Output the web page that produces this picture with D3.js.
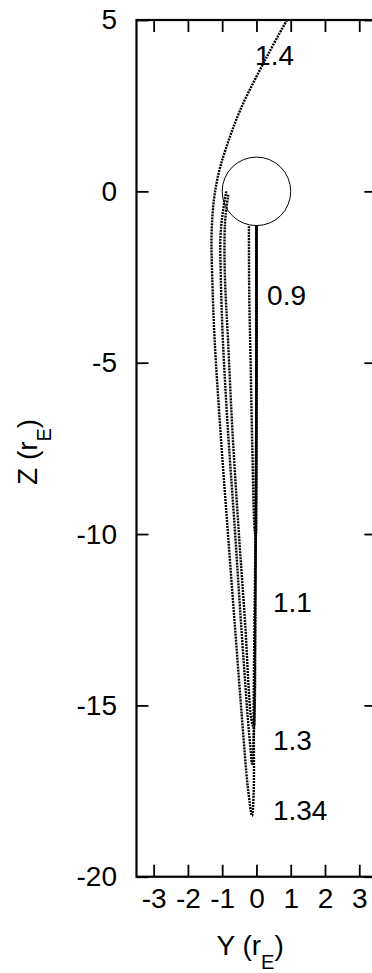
<!DOCTYPE html>
<html>
<head>
<meta charset="utf-8">
<script src="https://cdn.jsdelivr.net/npm/d3@7"></script>
<style>
html,body{margin:0;padding:0;background:#fff;}
svg{display:block;}
text{font-family:"Liberation Sans",Arial,Helvetica,sans-serif;fill:#000;}
</style>
</head>
<body>
<svg id="chart" width="372" height="973"></svg>
<script>
// ---- data (Y, Z in Earth radii) ----
const yTicks = [-3, -2, -1, 0, 1, 2, 3];
const zTicks = [5, 0, -5, -10, -15, -20];
const lineLabels = ["1.4", "0.9", "1.1", "1.3", "1.34"];

const line14 = [[0.89,5],[0.31,3.94],[-0.47,2.38],[-0.9,1.22],[-1.1,0.54],[-1.24,-0.24],[-1.31,-1.3],[-1.29,-2.5],[-1.22,-4.33],[-1.05,-7],[-0.84,-9.87],[-0.62,-12.8],[-0.42,-15.4],[-0.25,-17.4],[-0.13,-18.22],[-0.08,-17.5],[-0.08,-15],[-0.03,-10],[0,-5],[0,-1]];
const line134 = [[-0.88,0],[-0.98,-0.6],[-1.05,-1.3],[-1.04,-2.5],[-0.98,-4.33],[-0.83,-7],[-0.63,-9.87],[-0.45,-12.6],[-0.25,-15.4],[-0.16,-16.4],[-0.13,-16.71],[-0.08,-16],[-0.05,-14],[-0.02,-10],[0,-5],[0,-1]];
const line13 = [[-0.82,-0.1],[-0.9,-0.7],[-0.93,-1.3],[-0.92,-2.5],[-0.83,-4.33],[-0.7,-7],[-0.52,-9.87],[-0.33,-12.6],[-0.15,-15.4],[-0.08,-15.64],[-0.05,-15],[-0.03,-12],[-0.01,-8],[0,-4],[0,-1]];
const line09 = [[-0.22,-1.02],[-0.21,-3],[-0.17,-5],[-0.12,-7.5],[-0.05,-9.9],[-0.02,-10.05],[0,-9],[0,-5],[0,-1]];
const earth = {y:0, z:0, r:1};

// ---- layout ----
const svg = d3.select("#chart");
const padLeft = 136.5, padTop = 20, unit = 34.27;
const x = d3.scaleLinear().domain([-3.5, 3.5]).range([padLeft, padLeft + 7*unit]);
const y = d3.scaleLinear().domain([5, -20]).range([padTop, padTop + 25*unit]);
const [x0, x1] = x.range(), [y0, y1] = y.range();
const fs = 28;
const fmt = d => String(d);

svg.append("defs").append("clipPath").attr("id","clip")
  .append("rect").attr("x",x0).attr("y",y0).attr("width",x1-x0).attr("height",y1-y0);

const plot = svg.append("g").attr("clip-path","url(#clip)");

// earth
plot.append("circle")
  .attr("cx", x(earth.y)).attr("cy", y(earth.z))
  .attr("r", x(earth.r) - x(0))
  .attr("fill","none").attr("stroke","#000").attr("stroke-width",1);

const lineGen = d3.line().x(d => x(d[0])).y(d => y(d[1])).curve(d3.curveCatmullRom.alpha(0.5));
[line14, line134, line13, line09].forEach(pts => {
  plot.append("path").attr("d", lineGen(pts))
    .attr("fill","none").attr("stroke","#000")
    .attr("stroke-width",2.4).attr("stroke-dasharray","2 1");
});

// axes
function styleAxis(g){
  g.select(".domain").remove();
  g.selectAll(".tick line").attr("stroke","#000").attr("stroke-width",1.8);
  g.selectAll(".tick text").attr("font-family",null).attr("font-size",null)
    .style("font-size", fs+"px").attr("fill","#000");
}
svg.append("g").attr("transform",`translate(0,${y1})`)
  .call(d3.axisBottom(x).tickValues(yTicks).tickSizeInner(-12).tickSizeOuter(0).tickPadding(11.5).tickFormat(fmt))
  .call(styleAxis);
svg.append("g").attr("transform",`translate(0,${y0})`)
  .call(d3.axisTop(x).tickValues(yTicks).tickSizeInner(-12).tickSizeOuter(0).tickFormat(""))
  .call(styleAxis);
svg.append("g").attr("transform",`translate(${x0},0)`)
  .call(d3.axisLeft(y).tickValues(zTicks).tickSizeInner(-12).tickSizeOuter(0).tickPadding(19.5).tickFormat(fmt))
  .call(styleAxis);
svg.append("g").attr("transform",`translate(${x1},0)`)
  .call(d3.axisRight(y).tickValues(zTicks).tickSizeInner(-12).tickSizeOuter(0).tickFormat(""))
  .call(styleAxis);
svg.selectAll("g").attr("font-family",null).attr("font-size",null);

// frame
svg.append("rect").attr("x",x0).attr("y",y0).attr("width",x1-x0).attr("height",y1-y0)
  .attr("fill","none").attr("stroke","#000").attr("stroke-width",2.2);

// line labels (anchors in data units)
const labelAnchors = [[-0.04,3.69],[0.31,-3.32],[0.48,-12.27],[0.48,-16.3],[0.48,-18.34]];
lineLabels.forEach((t,i) => {
  svg.append("text").attr("x", x(labelAnchors[i][0])).attr("y", y(labelAnchors[i][1]))
    .style("font-size", fs+"px").text(t);
});

// axis titles
const xt = svg.append("text").attr("x",216.5).attr("y",955).style("font-size",fs+"px");
xt.append("tspan").text("Y (r");
xt.append("tspan").attr("dy",14).style("font-size","20px").text("E");
xt.append("tspan").attr("dy",-14).text(")");

const yt = svg.append("text").attr("transform","translate(36.5,485) rotate(-90)").style("font-size",fs+"px");
yt.append("tspan").text("Z (r");
yt.append("tspan").attr("dy",14).style("font-size","20px").text("E");
yt.append("tspan").attr("dy",-14).text(")");
</script>
</body>
</html>
